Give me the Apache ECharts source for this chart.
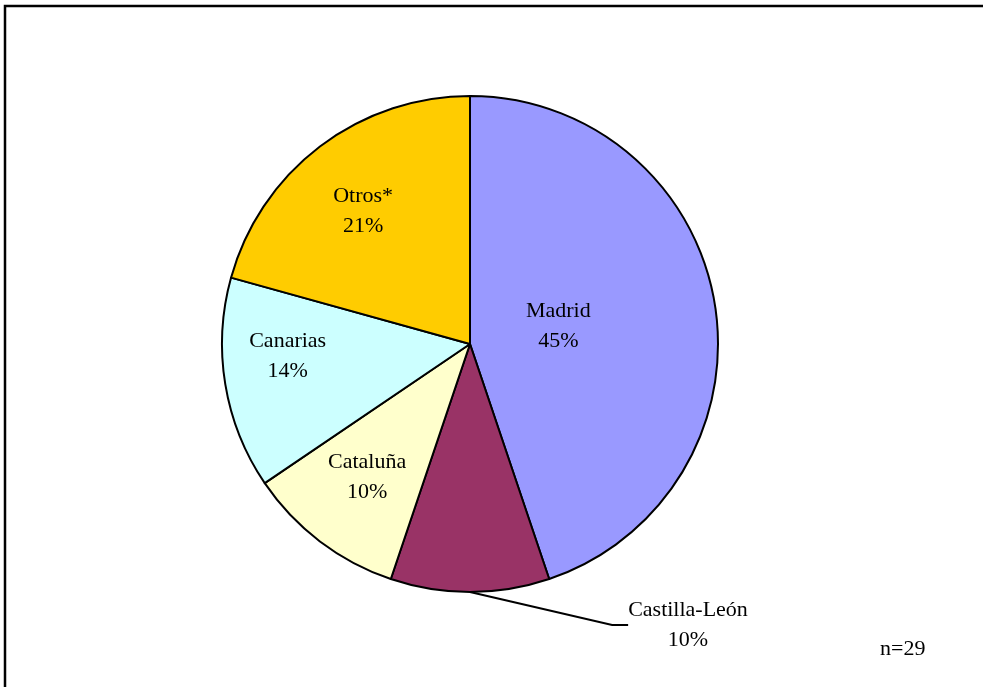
<!DOCTYPE html>
<html>
<head>
<meta charset="utf-8">
<script src="https://cdn.jsdelivr.net/npm/echarts@6/dist/echarts.min.js"></script>
<style>html,body{margin:0;padding:0;background:#fff}#c{width:983px;height:687px}</style>
</head>
<body>
<div id="c"></div>
<script>
const categories = ['Madrid', 'Castilla-León', 'Cataluña', 'Canarias', 'Otros*'];
const counts = [13, 3, 3, 4, 6];
const colors = ['#9999FF', '#993366', '#FFFFCC', '#CCFFFF', '#FFCC00'];
const sampleNote = 'n=29';

const FONT = '"Liberation Serif","Times New Roman",serif';
// label offsets relative to default inside positions (style only)
const labelOffsets = [[-37, 3], null, [-26, 32], [-57, -8], [-30, -32]];

const chart = echarts.init(document.getElementById('c'));
chart.setOption({
  animation: false,
  backgroundColor: '#fff',
  graphic: [
    { type: 'rect', shape: { x: 5, y: 6, width: 1010, height: 700 },
      style: { fill: 'none', stroke: '#000', lineWidth: 2.5 }, z: 100 },
    { type: 'text', x: 880, y: 638,
      style: { text: sampleNote, font: '22px ' + FONT, fill: '#000' } }
  ],
  series: [{
    type: 'pie',
    center: [470, 344],
    radius: 248,
    startAngle: 90,
    clockwise: true,
    avoidLabelOverlap: false,
    itemStyle: { borderColor: '#000', borderWidth: 2 },
    label: {
      position: 'inside',
      fontFamily: FONT,
      fontSize: 22,
      lineHeight: 30,
      color: '#000',
      formatter: p => p.name + '\n' + Math.round(p.percent) + '%'
    },
    labelLine: { show: false },
    labelLayout: function (p) {
      const o = labelOffsets[p.dataIndex];
      if (o) return { dx: o[0], dy: o[1] };
      return { x: 688, y: 625, align: 'center', verticalAlign: 'middle' };
    },
    data: categories.map((name, i) => {
      const d = { name: name, value: counts[i], itemStyle: { color: colors[i] } };
      if (i === 1) {
        d.label = { position: 'outside' };
        d.labelLine = { show: true, length: 10, length2: 16, lineStyle: { color: '#000', width: 2 } };
      }
      return d;
    })
  }]
});
</script>
</body>
</html>
